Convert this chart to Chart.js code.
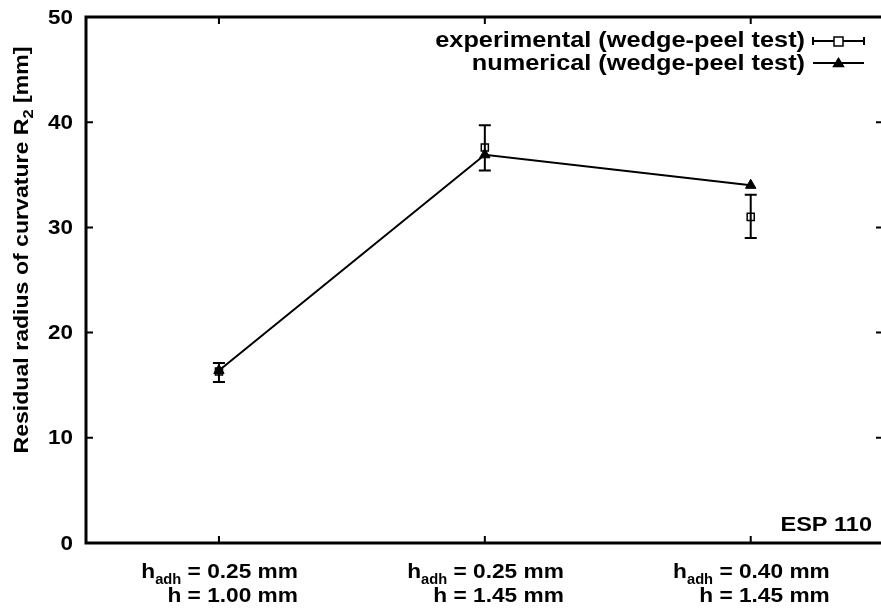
<!DOCTYPE html>
<html>
<head>
<meta charset="utf-8">
<script src="https://cdn.jsdelivr.net/npm/chart.js@4"></script>
<style>
  html, body { margin:0; padding:0; background:#fff; overflow:hidden; }
  canvas { display:block; }
</style>
</head>
<body>
<canvas id="chart" width="881" height="612"></canvas>
<script>
// specimen configurations (two-line labels, subscripted "adh")
const categories = [
  { hadh: '0.25 mm', h: '1.00 mm' },
  { hadh: '0.25 mm', h: '1.45 mm' },
  { hadh: '0.40 mm', h: '1.45 mm' }
];
const positions = [1, 2, 3];
const experimental = [16.3, 37.6, 31.0];
const expLow = [15.3, 35.4, 29.0];
const expHigh = [17.1, 39.7, 33.1];
const numerical = [16.4, 36.9, 34.0];
const yTicks = [0, 10, 20, 30, 40, 50];

const FONT = "'Liberation Sans', Arial, Helvetica, sans-serif";

// bold text, slightly stretched horizontally
function text(ctx, str, x, y, size, align, sx = 1.12) {
  ctx.save();
  ctx.font = `bold ${size}px ${FONT}`;
  ctx.textAlign = align;
  ctx.translate(x, y);
  ctx.scale(sx, 1);
  ctx.fillText(str, 0, 0);
  const w = ctx.measureText(str).width * sx;
  ctx.restore();
  return w;
}
function width(ctx, str, size, sx = 1.12) {
  ctx.font = `bold ${size}px ${FONT}`;
  return ctx.measureText(str).width * sx;
}

function drawTriangle(ctx, x, y, r) {
  ctx.beginPath();
  ctx.moveTo(x, y - r);
  ctx.lineTo(x + r * 1.05, y + r * 0.7);
  ctx.lineTo(x - r * 1.05, y + r * 0.7);
  ctx.closePath();
  ctx.fill();
}

const errorBars = {
  id: 'errorBars',
  afterDatasetsDraw(chart) {
    const { ctx, scales: { x, y } } = chart;
    ctx.save();
    ctx.strokeStyle = '#000';
    ctx.lineWidth = 2;
    positions.forEach((p, i) => {
      const px = x.getPixelForValue(p);
      const lo = y.getPixelForValue(expLow[i]);
      const hi = y.getPixelForValue(expHigh[i]);
      ctx.beginPath();
      ctx.moveTo(px, lo); ctx.lineTo(px, hi);
      ctx.moveTo(px - 6, lo); ctx.lineTo(px + 6, lo);
      ctx.moveTo(px - 6, hi); ctx.lineTo(px + 6, hi);
      ctx.stroke();
    });
    ctx.restore();
  }
};

const frame = {
  id: 'frame',
  afterDraw(chart) {
    const { ctx, chartArea: a, scales: { x, y } } = chart;
    ctx.save();
    ctx.strokeStyle = '#000';
    ctx.lineWidth = 3;
    // left, top and bottom sides; the right side lies past the canvas edge
    ctx.beginPath();
    ctx.moveTo(a.right + 2, a.top);
    ctx.lineTo(a.left, a.top);
    ctx.lineTo(a.left, a.bottom);
    ctx.lineTo(a.right + 2, a.bottom);
    ctx.stroke();

    // inward ticks on all four sides
    ctx.lineWidth = 2;
    ctx.beginPath();
    yTicks.slice(1, -1).forEach(v => {
      const py = y.getPixelForValue(v);
      ctx.moveTo(a.left, py); ctx.lineTo(a.left + 7, py);
      ctx.moveTo(a.right, py); ctx.lineTo(a.right - 5, py);
    });
    positions.forEach(p => {
      const px = x.getPixelForValue(p);
      ctx.moveTo(px, a.bottom); ctx.lineTo(px, a.bottom - 7);
      ctx.moveTo(px, a.top); ctx.lineTo(px, a.top + 7);
    });
    ctx.stroke();

    ctx.fillStyle = '#000';
    ctx.textBaseline = 'middle';

    // y tick labels
    yTicks.forEach(v => text(ctx, String(v), a.left - 13, y.getPixelForValue(v) + 1, 20, 'right'));

    // x labels with subscript
    ctx.textBaseline = 'alphabetic';
    positions.forEach((p, i) => {
      const px = x.getPixelForValue(p);
      const c = categories[i];
      const right = px + 79;
      const wMain = text(ctx, ' = ' + c.hadh, right, 578, 21, 'right', 1.08);
      const wSub = text(ctx, 'adh', right - wMain, 584, 14, 'right', 1.05);
      text(ctx, 'h', right - wMain - wSub, 578, 21, 'right', 1.08);
      text(ctx, 'h = ' + c.h, right, 602, 21, 'right', 1.08);
    });

    // y axis title, rotated, with subscript 2
    ctx.save();
    ctx.translate(28, 250);
    ctx.rotate(-Math.PI / 2);
    const t1 = 'Residual radius of curvature R';
    const t2 = ' [mm]';
    const total = width(ctx, t1, 21, 1.1) + width(ctx, '2', 15, 1.1) + width(ctx, t2, 21, 1.1);
    let cx = -total / 2;
    cx += text(ctx, t1, cx, 0, 21, 'left', 1.1);
    cx += text(ctx, '2', cx, 5, 15, 'left', 1.1);
    text(ctx, t2, cx, 0, 21, 'left', 1.1);
    ctx.restore();

    // legend (text first, sample to the right)
    ctx.textBaseline = 'middle';
    text(ctx, 'experimental (wedge-peel test)', 805, 41, 22, 'right', 1.15);
    text(ctx, 'numerical (wedge-peel test)', 805, 64, 22, 'right', 1.15);
    ctx.lineWidth = 2;
    ctx.beginPath();
    ctx.moveTo(813, 41); ctx.lineTo(864, 41);
    ctx.moveTo(813, 37); ctx.lineTo(813, 45);
    ctx.moveTo(864, 37); ctx.lineTo(864, 45);
    ctx.moveTo(813, 63); ctx.lineTo(864, 63);
    ctx.stroke();
    ctx.fillStyle = '#fff';
    ctx.fillRect(834, 37, 9, 9);
    ctx.lineWidth = 1.5;
    ctx.strokeRect(834, 37, 9, 9);
    ctx.fillStyle = '#000';
    drawTriangle(ctx, 838.5, 63, 6);

    // panel tag
    ctx.textBaseline = 'alphabetic';
    text(ctx, 'ESP 110', 872, 531, 21, 'right');
    ctx.restore();
  }
};

new Chart(document.getElementById('chart'), {
  type: 'scatter',
  data: {
    datasets: [
      {
        label: 'numerical (wedge-peel test)',
        data: positions.map((p, i) => ({ x: p, y: numerical[i] })),
        showLine: true,
        borderColor: '#000',
        borderWidth: 2,
        backgroundColor: '#000',
        pointStyle: 'triangle',
        pointRadius: 6,
        pointBorderWidth: 1
      },
      {
        label: 'experimental (wedge-peel test)',
        data: positions.map((p, i) => ({ x: p, y: experimental[i] })),
        showLine: false,
        borderColor: '#000',
        backgroundColor: 'rgba(255,255,255,0)',
        pointStyle: 'rect',
        pointRadius: 5,
        pointBorderWidth: 1.5
      }
    ]
  },
  options: {
    responsive: false,
    animation: false,
    devicePixelRatio: 1,
    layout: { autoPadding: false, padding: { top: 17, right: 0, left: 0, bottom: 0 } },
    plugins: { legend: { display: false }, tooltip: { enabled: false } },
    scales: {
      x: {
        type: 'linear', min: 0.5, max: 3.49,
        grid: { display: false }, border: { display: false },
        ticks: { display: false },
        afterFit(s) { s.height = 69; }
      },
      y: {
        min: 0, max: 50,
        grid: { display: false }, border: { display: false },
        ticks: { display: false },
        afterFit(s) { s.width = 86; }
      }
    }
  },
  plugins: [errorBars, frame]
});
</script>
</body>
</html>
